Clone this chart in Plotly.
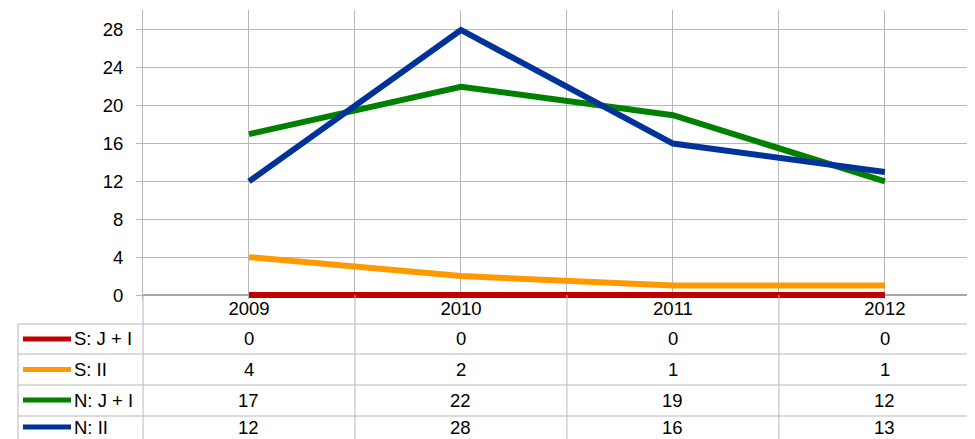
import plotly.graph_objects as go

years = ["2009", "2010", "2011", "2012"]
series_names = ["S: J + I", "S: II", "N: J + I", "N: II"]
s_ji = [0, 0, 0, 0]
s_ii = [4, 2, 1, 1]
n_ji = [17, 22, 19, 12]
n_ii = [12, 28, 16, 13]
y_ticks = [0, 4, 8, 12, 16, 20, 24, 28]

series_values = [s_ji, s_ii, n_ji, n_ii]
colors = ["#c00000", "#ff9900", "#008000", "#003399"]

# page has an 8px body margin; figure sized to fit the window
OFF = 8
W, H = 967, 431
ML, MR, MT, MB = 135, 0, 2, 140
PW = W - ML - MR
PH = H - MT - MB
FONT = "Liberation Sans, Arial, sans-serif"
FS = 18.5
GRID = "#b8b8b8"


def px_x(px):
    return (px - OFF - ML) / PW


def px_y(py):
    return (H - MB - (py - OFF)) / PH


xs = list(range(len(years)))
fig = go.Figure()
for name, vals, col in zip(series_names, series_values, colors):
    fig.add_trace(go.Scatter(
        x=xs, y=vals, name=name, mode="lines",
        line=dict(color=col, width=6),
        showlegend=False, cliponaxis=False,
    ))

# x grid at category centres and boundaries
grid_vals = [i * 0.5 - 0.5 for i in range(2 * len(years) + 1)]
grid_text = []
for v in grid_vals:
    if abs(v - round(v)) < 1e-9 and 0 <= round(v) < len(years):
        grid_text.append(years[int(round(v))])
    else:
        grid_text.append("")

shapes = []
annotations = []

# table horizontal lines
row_lines = [324, 354, 385, 416]
for py in row_lines:
    shapes.append(dict(type="line", xref="paper", yref="paper",
                       x0=px_x(18), x1=1, y0=px_y(py), y1=px_y(py),
                       line=dict(color=GRID, width=1)))
# table vertical lines
shapes.append(dict(type="line", xref="paper", yref="paper",
                   x0=px_x(18), x1=px_x(18), y0=px_y(324), y1=px_y(H + 20),
                   line=dict(color=GRID, width=1)))
shapes.append(dict(type="line", xref="paper", yref="paper",
                   x0=0, x1=0, y0=px_y(295), y1=px_y(H + 20),
                   line=dict(color=GRID, width=1)))
for i in range(len(years)):
    xb = i + 0.5
    shapes.append(dict(type="line", xref="x", yref="paper",
                       x0=xb, x1=xb, y0=px_y(295), y1=px_y(H + 20),
                       line=dict(color=GRID, width=1)))

row_centers = [339, 369.5, 400, 427]
for name, vals, col, yc in zip(series_names, series_values, colors, row_centers):
    shapes.append(dict(type="line", xref="paper", yref="paper",
                       x0=px_x(23), x1=px_x(71), y0=px_y(yc), y1=px_y(yc),
                       line=dict(color=col, width=5)))
    annotations.append(dict(xref="paper", yref="paper", x=px_x(72), y=px_y(yc),
                            text=name, showarrow=False, xanchor="left",
                            yanchor="middle",
                            font=dict(family=FONT, size=FS, color="#000")))
    for i, v in enumerate(vals):
        annotations.append(dict(xref="x", yref="paper", x=i, y=px_y(yc),
                                text=str(v), showarrow=False, xanchor="center",
                                yanchor="middle",
                                font=dict(family=FONT, size=FS, color="#000")))

fig.update_layout(
    width=W, height=H,
    margin=dict(l=ML, r=MR, t=MT, b=MB, pad=0),
    paper_bgcolor="white", plot_bgcolor="white",
    font=dict(family=FONT, size=FS, color="#000"),
    xaxis=dict(range=[-0.5, 3.425], tickmode="array", tickvals=grid_vals,
               ticktext=grid_text, showgrid=True, gridcolor=GRID, gridwidth=1,
               zeroline=False, showline=False, ticks="",
               ticklabelstandoff=-4,
               tickfont=dict(family=FONT, size=FS, color="#000")),
    yaxis=dict(range=[-0.42, 30.11], tickmode="array", tickvals=y_ticks,
               showgrid=True, gridcolor=GRID, gridwidth=1,
               zeroline=True, zerolinecolor="#a6a6a6", zerolinewidth=2,
               showline=True, linecolor=GRID, linewidth=1,
               ticks="outside", ticklen=6, tickcolor=GRID,
               ticklabelstandoff=9,
               tickfont=dict(family=FONT, size=FS, color="#000")),
    shapes=shapes,
    annotations=annotations,
)

fig.write_html("out.html")
